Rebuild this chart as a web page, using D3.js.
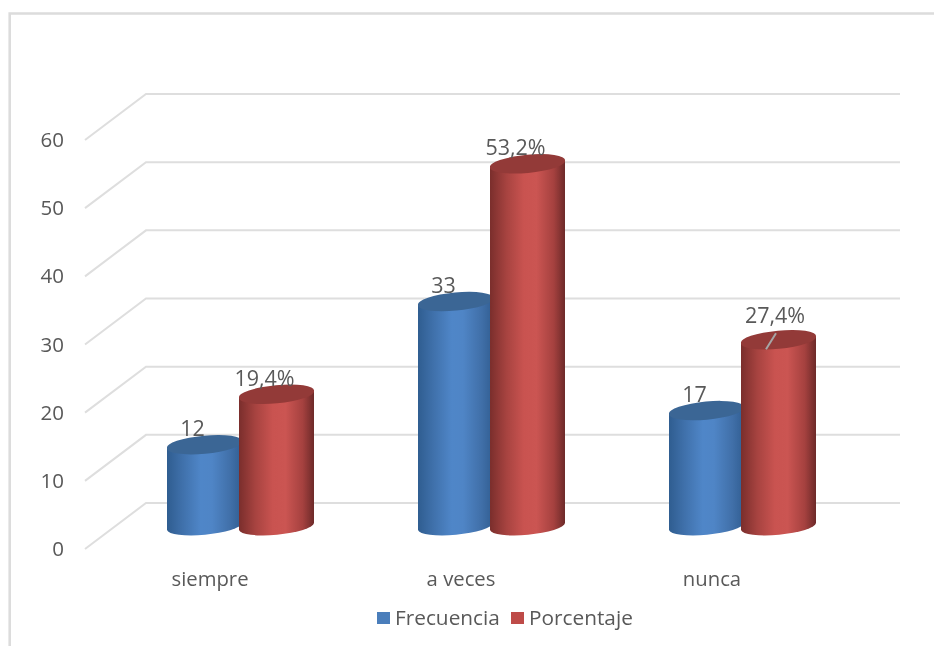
<!DOCTYPE html>
<html><head><meta charset="utf-8">
<script src="https://cdn.jsdelivr.net/npm/d3@7"></script>
<style>html,body{margin:0;background:#fff}svg{display:block;filter:blur(0.55px)}text{font-family:"Open Sans",sans-serif;fill:#595959}</style>
</head><body><svg id="c" width="934" height="646"></svg>
<script>
const categories = ["siempre", "a veces", "nunca"];
const seriesNames = ["Frecuencia", "Porcentaje"];
const frecuencia = [12, 33, 17];
const porcentaje = [19.4, 53.2, 27.4];
const frecuenciaLabels = ["12", "33", "17"];
const porcentajeLabels = ["19,4%", "53,2%", "27,4%"];
const yTicks = [0, 10, 20, 30, 40, 50, 60];

const svg = d3.select("#c");
const W = 75, TILT = 7, RX = 37.7, RY = 8.7, ROT = -5.4;

// frame
svg.append("path").attr("d", "M9.7 646V13.5H934").attr("fill", "none").attr("stroke", "#dcdcdc").attr("stroke-width", 2.6);

const yBack = d3.scaleLinear().domain([0, 60]).range([503, 94]);
const yFront = d3.scaleLinear().domain([0, 60]).range([549, 140]);
const yBar = d3.scaleLinear().domain([0, 60]).range([530, 121]);
const xFront = d3.scaleBand().domain(categories).range([84.5, 837.5]);
const xBar = d3.scaleBand().domain(categories).range([115, 868]);
const xSeries = d3.scalePoint().domain(seriesNames).range([-73.5, -1.5]);

// gridlines: floor/wall
const grid = svg.append("g").attr("fill", "none").attr("stroke", "#dedede").attr("stroke-width", 2);
grid.selectAll("path").data(yTicks).join("path")
  .attr("d", d => `M85 ${yFront(d)}L146 ${yBack(d)}H900`);

// y axis
const yAxis = svg.append("g").attr("transform", "translate(64,0)")
  .call(d3.axisLeft(yFront).tickValues(yTicks).tickSize(0).tickPadding(0));
yAxis.select(".domain").remove();
yAxis.selectAll("text").attr("font-size", 20.5).style("font-family", '"Open Sans",sans-serif').style("fill", "#595959");

// category axis
const xAxis = svg.append("g").attr("transform", "translate(0,574)")
  .call(d3.axisBottom(xFront).tickSize(0).tickPadding(0));
xAxis.select(".domain").remove();
xAxis.selectAll("text").attr("font-size", 20.3).attr("dy", "0.6em").style("font-family", '"Open Sans",sans-serif').style("fill", "#595959");

// gradients
const defs = svg.append("defs");
function grad(id, stops) {
  const g = defs.append("linearGradient").attr("id", id);
  stops.forEach(s => g.append("stop").attr("offset", s[0]).attr("stop-color", s[1]));
}
grad("gBlue", [[0, "#2f5d90"], [.2, "#3f70aa"], [.45, "#4f86c8"], [.6, "#4f85c6"], [.85, "#406fa8"], [1, "#315e92"]]);
grad("gRed", [[0, "#7a2e2c"], [.22, "#a74340"], [.45, "#c95350"], [.62, "#cb5552"], [.85, "#a5413f"], [1, "#6d2a29"]]);

const colours = { Frecuencia: ["url(#gBlue)", "#3b6695"], Porcentaje: ["url(#gRed)", "#933a38"] };
const swatch = { Frecuencia: "#4a7ebb", Porcentaje: "#be4b48" };

const rows = seriesNames.flatMap((s, si) => categories.map((c, i) => ({
  s, c, v: (si ? porcentaje : frecuencia)[i], label: (si ? porcentajeLabels : frecuenciaLabels)[i]
})));
const barX = d => xBar(d.c) + xBar.bandwidth() / 2 + xSeries(d.s);

// each bar is clipped to its own width so the tilted ellipses do not stick out
rows.forEach((d, i) => {
  defs.append("clipPath").attr("id", "clip" + i).append("rect")
    .attr("x", barX(d)).attr("y", 0).attr("width", W).attr("height", 646);
});

const bars = svg.append("g").selectAll("g").data(rows).join("g")
  .attr("clip-path", (d, i) => `url(#clip${i})`);
bars.append("path").attr("fill", d => colours[d.s][0]).attr("d", d => {
  const x0 = barX(d), x1 = x0 + W, yt = yBar(d.v), yb = yBar(0);
  return `M${x0} ${yt}L${x0} ${yb}A${RX} ${RY} ${ROT} 0 0 ${x1} ${yb - TILT}L${x1} ${yt - TILT}Z`;
});
bars.append("path").attr("fill", d => colours[d.s][1]).attr("d", d => {
  const x0 = barX(d), x1 = x0 + W, yt = yBar(d.v);
  return `M${x0} ${yt}A${RX} ${RY} ${ROT} 1 0 ${x1} ${yt - TILT}A${RX} ${RY} ${ROT} 1 0 ${x0} ${yt}Z`;
});

// leader line on the last percentage label
const last = rows[rows.length - 1];
const lx = barX(last);
svg.append("line").attr("x1", lx + 35).attr("y1", yBar(last.v) - 10).attr("x2", lx + 25).attr("y2", yBar(last.v) + 6)
  .attr("stroke", "#a6a6a6").attr("stroke-width", 2);

// value labels
svg.append("g").selectAll("text").data(rows).join("text")
  .attr("font-size", 21.5).attr("text-anchor", "middle")
  .attr("x", d => barX(d) + (d === last ? 34 : 25.5))
  .attr("y", d => yBar(d.v) - (d === last ? 20 : 12))
  .text(d => d.label);

// legend
const legX = d3.scaleOrdinal().domain(seriesNames).range([377, 511]);
const leg = svg.append("g").selectAll("g").data(seriesNames).join("g").attr("transform", d => `translate(${legX(d)},612)`);
leg.append("rect").attr("width", 13).attr("height", 12).attr("fill", d => swatch[d]);
leg.append("text").attr("x", 18).attr("y", 13).attr("font-size", 20.8).text(d => d);
</script></body></html>
